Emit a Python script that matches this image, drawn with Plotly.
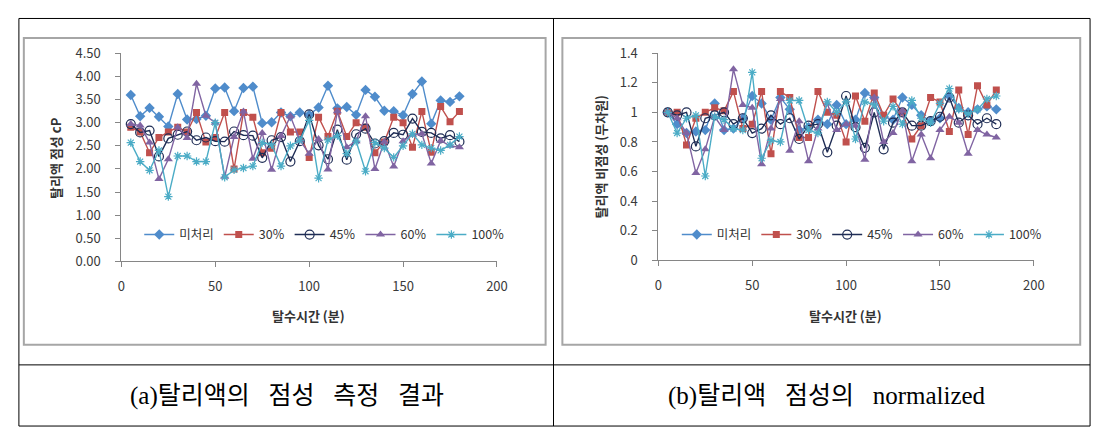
import plotly.graph_objects as go

# the page body has an 8px default margin, so the figure is drawn at (8, 8)
OX, OY = 8, 8
W, H = 1114 - 16, 443 - 15

times = list(range(5, 185, 5))
series_names = ["미처리", "30%", "45%", "60%", "100%"]

# (a) viscosity, cP
visc_untreated = [3.60, 3.14, 3.32, 3.13, 2.92, 3.62, 3.07, 3.08, 3.15, 3.74, 3.76, 3.25,
                  3.75, 3.78, 2.99, 3.01, 3.22, 3.14, 3.22, 3.17, 3.33, 3.80, 3.31, 3.34,
                  3.17, 3.71, 3.56, 3.26, 3.25, 3.16, 3.62, 3.89, 2.98, 3.48, 3.45, 3.57]
visc_30 = [2.90, 2.80, 2.35, 2.68, 2.80, 2.90, 2.80, 3.22, 2.58, 2.68, 3.22, 2.00,
           3.22, 3.12, 2.35, 2.45, 3.22, 2.80, 2.80, 2.25, 3.12, 2.70, 3.25, 2.70,
           3.00, 2.90, 2.35, 2.58, 3.12, 3.00, 2.47, 3.24, 2.36, 3.35, 3.02, 3.24]
visc_45 = [2.97, 2.79, 2.83, 2.27, 2.66, 2.74, 2.81, 2.62, 2.68, 2.60, 2.59, 2.81,
           2.73, 2.72, 2.24, 2.62, 2.69, 2.16, 2.60, 3.18, 2.51, 2.21, 2.85, 2.20,
           2.75, 2.87, 2.55, 2.60, 2.78, 2.74, 3.09, 2.80, 2.78, 2.66, 2.73, 2.59]
visc_60 = [2.97, 2.94, 2.57, 1.78, 2.21, 2.90, 2.67, 3.84, 3.15, 3.00, 1.83, 2.69,
           3.24, 2.22, 2.78, 1.98, 2.71, 3.14, 2.62, 2.33, 2.65, 1.99, 3.25, 2.47,
           2.60, 3.14, 2.00, 2.59, 2.05, 2.60, 2.74, 2.76, 2.12, 2.61, 2.50, 2.47]
visc_100 = [2.57, 2.16, 1.97, 2.40, 1.40, 2.28, 2.28, 2.16, 2.16, 3.00, 1.82, 1.98,
            2.02, 2.06, 2.57, 2.52, 2.06, 2.50, 2.62, 3.05, 1.80, 2.63, 2.72, 2.33,
            2.60, 1.95, 2.57, 2.45, 2.25, 2.50, 2.76, 2.52, 2.45, 2.40, 2.52, 2.70]

# (b) normalized viscosity (dimensionless)
norm_untreated = [1.00, 0.92, 0.86, 0.87, 0.88, 1.06, 0.88, 0.89, 0.96, 1.11, 1.06, 0.95,
                  1.10, 1.02, 0.88, 0.90, 0.95, 0.92, 1.05, 0.92, 0.95, 1.13, 1.10, 0.97,
                  0.95, 1.10, 1.05, 0.98, 0.94, 0.96, 1.11, 1.03, 1.00, 1.02, 1.04, 1.02]
norm_30 = [1.00, 1.00, 0.78, 0.96, 1.00, 1.03, 1.01, 1.14, 0.89, 0.92, 1.14, 0.72,
           1.14, 1.10, 0.83, 0.83, 1.14, 1.00, 0.98, 0.80, 1.11, 0.94, 1.13, 0.98,
           1.09, 1.00, 0.82, 0.91, 1.10, 1.07, 0.87, 1.15, 0.85, 1.18, 1.05, 1.15]
norm_45 = [1.00, 0.98, 1.00, 0.77, 0.96, 0.98, 1.00, 0.92, 0.96, 0.86, 0.89, 0.98,
           0.92, 0.96, 0.82, 0.91, 0.92, 0.73, 0.91, 1.11, 0.90, 0.76, 1.00, 0.75,
           0.93, 1.00, 0.91, 0.91, 0.94, 0.97, 1.10, 0.93, 0.98, 0.92, 0.96, 0.92]
norm_60 = [1.00, 0.96, 0.86, 0.59, 0.75, 0.97, 0.88, 1.29, 1.05, 1.03, 0.65, 0.89,
           1.09, 0.74, 0.94, 0.67, 0.89, 1.06, 0.88, 0.92, 0.91, 0.68, 1.10, 0.80,
           0.86, 1.01, 0.67, 0.85, 0.69, 0.88, 0.97, 0.93, 0.72, 0.88, 0.85, 0.83]
norm_100 = [1.00, 0.86, 0.96, 0.98, 0.57, 0.97, 0.95, 0.89, 0.88, 1.27, 0.69, 0.81,
            0.80, 1.08, 1.08, 0.88, 0.86, 1.07, 1.00, 1.07, 0.82, 1.07, 1.05, 0.94,
            1.04, 0.92, 1.08, 0.96, 0.93, 1.06, 1.16, 1.02, 0.99, 1.02, 1.09, 1.11]

left_data = [visc_untreated, visc_30, visc_45, visc_60, visc_100]
right_data = [norm_untreated, norm_30, norm_45, norm_60, norm_100]

styles = [
    dict(color="#4F8CCB", symbol="diamond", size=8, lw=0),
    dict(color="#C0504D", symbol="square", size=7, lw=0),
    dict(color="#1F2D55", symbol="circle-open", size=9, lw=1.2),
    dict(color="#8064A2", symbol="triangle-up", size=8, lw=0),
    dict(color="#4BACC6", symbol="asterisk-open", size=7, lw=1.2),
]

FONT = "Noto Sans CJK KR, Noto Sans, sans-serif"
SERIF = "Liberation Serif, Noto Sans CJK KR, serif"

def px(x):
    return (x - OX) / W

def py(y):
    return 1 - (y - OY) / H

fig = go.Figure()

for name, ys, st in zip(series_names, left_data, styles):
    fig.add_trace(go.Scatter(
        x=times, y=ys, name=name, mode="lines+markers",
        line=dict(color=st["color"], width=1.4),
        marker=dict(symbol=st["symbol"], size=st["size"], color=st["color"],
                    line=dict(color=st["color"], width=st["lw"])),
        xaxis="x", yaxis="y", legend="legend"))

for name, ys, st in zip(series_names, right_data, styles):
    fig.add_trace(go.Scatter(
        x=times, y=ys, name=name, mode="lines+markers",
        line=dict(color=st["color"], width=1.4),
        marker=dict(symbol=st["symbol"], size=st["size"], color=st["color"],
                    line=dict(color=st["color"], width=st["lw"])),
        xaxis="x2", yaxis="y2", legend="legend2"))

axis_common = dict(showgrid=False, zeroline=False, showline=True, linecolor="#868686",
                   linewidth=1, ticks="outside", ticklen=5, tickcolor="#868686",
                   tickfont=dict(family=FONT, size=13, color="#3a3a3a"))

legend_font = dict(family=FONT, size=12.5, color="#333333")

fig.update_layout(
    width=W, height=H,
    margin=dict(l=0, r=0, t=0, b=0),
    paper_bgcolor="white", plot_bgcolor="rgba(0,0,0,0)",
    xaxis=dict(domain=[px(118.9), px(499.7)], range=[0, 200], dtick=50,
               anchor="y", ticklabelstandoff=8, **axis_common),
    yaxis=dict(domain=[py(262.7), py(45)], range=[0, 4.5], dtick=0.5,
               tickformat=".2f", anchor="x", ticklabelstandoff=12, **axis_common),
    xaxis2=dict(domain=[px(663.3), px(1044)], range=[0, 200], dtick=50,
                anchor="y2", ticklabelstandoff=8, **axis_common),
    yaxis2=dict(domain=[py(261.7), py(44.7)], range=[0, 1.4], dtick=0.2,
                anchor="x2", ticklabelstandoff=12, **axis_common),
    legend=dict(orientation="h", x=px(137), y=py(235), xanchor="left", yanchor="middle",
                bgcolor="rgba(0,0,0,0)", font=legend_font, tracegroupgap=0),
    legend2=dict(orientation="h", x=px(682), y=py(235), xanchor="left", yanchor="middle",
                 bgcolor="rgba(0,0,0,0)", font=legend_font, tracegroupgap=0),
)

shapes = []
# table lines
shapes.append(dict(type="rect", xref="paper", yref="paper", x0=px(15), x1=px(1101),
                   y0=py(435), y1=py(8.5), line=dict(color="black", width=1)))
shapes.append(dict(type="line", xref="paper", yref="paper", x0=px(15), x1=px(1101),
                   y0=py(371), y1=py(371), line=dict(color="black", width=1)))
shapes.append(dict(type="line", xref="paper", yref="paper", x0=px(557), x1=px(557),
                   y0=py(435), y1=py(8.5), line=dict(color="black", width=1)))
# chart frames
shapes.append(dict(type="rect", xref="paper", yref="paper", x0=px(20), x1=px(549),
                   y0=py(350), y1=py(29), line=dict(color="#A6A6A6", width=2)))
shapes.append(dict(type="rect", xref="paper", yref="paper", x0=px(566), x1=px(1091),
                   y0=py(350), y1=py(29), line=dict(color="#A6A6A6", width=2)))
fig.update_layout(shapes=shapes)

title_font = dict(family=FONT, size=13, color="#333333")
caption_font = dict(family=SERIF, size=25, color="black")
ann = [
    dict(text="<b>탈리액 점성 cP</b>", x=px(52), y=py(154), textangle=-90, font=title_font),
    dict(text="<b>탈수시간 (분)</b>", x=px(309), y=py(319), font=title_font),
    dict(text="<b>탈리액 비점성 (무차원)</b>", x=px(605), y=py(153), textangle=-90, font=title_font),
    dict(text="<b>탈수시간 (분)</b>", x=px(853), y=py(319), font=title_font),
    dict(text="(a)탈리액의\u2002 점성\u2002 측정\u2002 결과", x=px(287), y=py(404),
         font=caption_font),
    dict(text="(b)탈리액\u2002 점성의\u2002 normalized", x=px(834), y=py(404),
         font=caption_font),
]
for a in ann:
    a.update(xref="paper", yref="paper", showarrow=False, xanchor="center", yanchor="middle")
fig.update_layout(annotations=ann)

fig.write_html("out.html")
